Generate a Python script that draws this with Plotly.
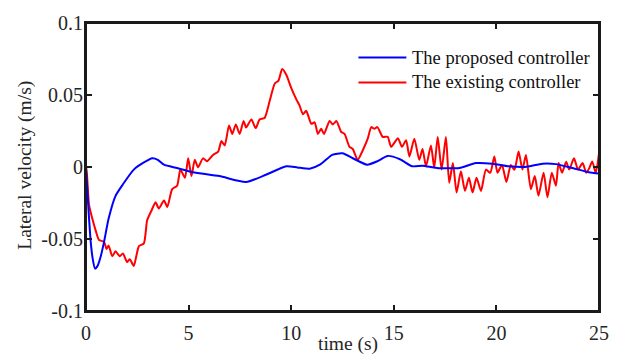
import plotly.graph_objects as go

# ---- data ----
t_proposed = [
    0, 0.07, 0.15, 0.23, 0.33, 0.44, 0.55, 0.7, 0.88, 1.1,
    1.44, 1.8, 2.33, 2.8, 3.23, 3.5, 3.8, 4.44, 5.2, 6.5,
    7.8, 8.8, 9.76, 10.3, 10.9, 11.4, 12.0, 12.5, 13.0, 13.7,
    14.2, 14.7, 15.3, 15.9, 16.4, 17.1, 18.2, 19.0, 19.8, 20.6,
    21.4, 22.25, 22.9, 23.7, 24.5, 25,
]
v_proposed = [
    0, -0.0177, -0.036, -0.052, -0.064, -0.0706, -0.069, -0.063, -0.052, -0.036,
    -0.02, -0.012, -0.0018, 0.003, 0.0061, 0.005, 0.0016, -0.0007, -0.0036, -0.0063,
    -0.0104, -0.0052, 0.0005, -0.0003, -0.0012, 0.0016, 0.0084, 0.0095, 0.0061, 0.0016,
    0.004, 0.0077, 0.0054, 0.0005, 0.0009, -0.0007, -0.0007, 0.0027, 0.0023, 0.0005,
    0.0, 0.0023, 0.002, -0.0007, -0.0036, -0.0045,
]

t_existing = [
    0, 0.05, 0.15, 0.31, 0.47, 0.63, 0.88, 1.0, 1.1, 1.28,
    1.44, 1.64, 1.8, 2.0, 2.13, 2.33, 2.45, 2.58, 2.82, 2.98,
    3.2, 3.39, 3.55, 3.8, 3.96, 4.2, 4.44, 4.6, 4.82, 4.98,
    5.14, 5.3, 5.46, 5.7, 5.9, 6.19, 6.44, 6.6, 6.76, 6.97,
    7.13, 7.3, 7.49, 7.68, 7.8, 8.06, 8.27, 8.46, 8.7, 8.95,
    9.2, 9.38, 9.56, 9.76, 10.0, 10.25, 10.4, 10.57, 10.73, 10.98,
    11.14, 11.3, 11.46, 11.6, 11.87, 12.03, 12.2, 12.44, 12.6, 12.84,
    13.0, 13.24, 13.5, 13.73, 13.9, 14.05, 14.2, 14.46, 14.7, 14.87,
    15.2, 15.4, 15.6, 15.76, 16.0, 16.24, 16.4, 16.57, 16.81, 16.97,
    17.14, 17.33, 17.54, 17.7, 17.88, 18.06, 18.27, 18.47, 18.66, 18.84,
    19.03, 19.25, 19.49, 19.7, 19.9, 20.05, 20.27, 20.49, 20.7, 20.88,
    21.08, 21.27, 21.44, 21.68, 21.87, 22.05, 22.3, 22.49, 22.7, 22.9,
    23.03, 23.2, 23.4, 23.55, 23.78, 23.98, 24.2, 24.38, 24.52, 24.67,
    24.84, 25,
]
v_existing = [
    0, -0.006, -0.0265, -0.036, -0.044, -0.0506, -0.052, -0.057, -0.0545, -0.062,
    -0.0585, -0.062, -0.06, -0.066, -0.064, -0.0687, -0.062, -0.055, -0.053, -0.037,
    -0.03, -0.0245, -0.0288, -0.0233, -0.0278, -0.0154, -0.013, -0.0018, -0.0075, 0.006,
    -0.0063, 0.005, -0.0002, 0.006, 0.004, 0.0084, 0.0107, 0.018, 0.015, 0.0288,
    0.023, 0.0295, 0.023, 0.032, 0.0275, 0.033, 0.027, 0.033, 0.034, 0.0458,
    0.058, 0.06, 0.068, 0.064, 0.055, 0.047, 0.043, 0.0367, 0.039, 0.030,
    0.031, 0.023, 0.0265, 0.023, 0.032, 0.0295, 0.032, 0.0243, 0.023, 0.014,
    0.0125, 0.005, 0.012, 0.0197, 0.0277, 0.0265, 0.0277, 0.0209, 0.021, 0.014,
    0.02, 0.014, 0.0186, 0.0073, 0.0197, 0.005, 0.0125, 0.0005, 0.015, -0.0005,
    0.0209, -0.0018, 0.0209, -0.0109, 0.0027, -0.0177, -0.003, -0.0166, -0.0075, -0.0177,
    -0.0075, -0.0166, -0.0018, -0.004, 0.0073, -0.004, 0.0014, -0.0104, 0.0014, -0.002,
    0.0107, -0.0018, 0.0084, -0.0154, -0.0063, -0.02, -0.004, -0.021, -0.004, -0.013,
    0.0027, -0.004, 0.0036, -0.0018, 0.0061, -0.0018, 0.0027, -0.004, -0.001, 0.0039,
    -0.004, 0.0095,
]

series_names = ["The proposed controller", "The existing controller"]
x_ticks = [0, 5, 10, 15, 20, 25]
x_tick_labels = ["0", "5", "10", "15", "20", "25"]
y_ticks = [-0.1, -0.05, 0, 0.05, 0.1]
y_tick_labels = ["-0.1", "-0.05", "0", "0.05", "0.1"]

FONT = "Liberation Serif, Times New Roman, serif"
TXT = "#262626"
AX = "#1a1a1a"
colors = ["#0000FF", "#FF0000"]

fig = go.Figure()
fig.add_trace(go.Scatter(x=t_existing, y=v_existing, mode="lines",
                         name=series_names[1],
                         line=dict(color=colors[1], width=2, shape="spline", smoothing=0.6)))
fig.add_trace(go.Scatter(x=t_proposed, y=v_proposed, mode="lines",
                         name=series_names[0],
                         line=dict(color=colors[0], width=2, shape="spline", smoothing=0.6)))

axis_common = dict(showgrid=False, zeroline=False, showline=True, linecolor=AX,
                   linewidth=2, mirror="ticks", ticks="inside", ticklen=6,
                   tickwidth=1.5, tickcolor=AX,
                   tickfont=dict(family=FONT, size=20, color=TXT))

fig.update_xaxes(range=[0, 25], tickmode="array", tickvals=x_ticks,
                 ticktext=x_tick_labels, ticklabelstandoff=3, **axis_common)
fig.update_yaxes(range=[-0.1, 0.1], tickmode="array", tickvals=y_ticks,
                 ticktext=y_tick_labels, ticklabelstandoff=-3, **axis_common)

# axes box (MATLAB "box on")
shapes = [dict(type="rect", xref="paper", yref="paper", x0=0, x1=1, y0=0, y1=1,
               line=dict(color=AX, width=2), fillcolor="rgba(0,0,0,0)", layer="above")]
annotations = []
# legend drawn as swatches + text (MATLAB-style long sample lines)
leg_rows = [0.88, 0.7935]
for i, (name, col) in enumerate(zip(series_names, colors)):
    shapes.append(dict(type="line", xref="paper", yref="paper",
                       x0=0.5311, x1=0.6245, y0=leg_rows[i], y1=leg_rows[i],
                       line=dict(color=col, width=2)))
    annotations.append(dict(text=name, xref="paper", yref="paper",
                            x=0.6323, y=leg_rows[i], xanchor="left", yanchor="middle",
                            showarrow=False,
                            font=dict(family=FONT, size=18.5, color="#111111")))

annotations.append(dict(text="time (s)", xref="paper", yref="paper",
                        x=0.51, y=-0.1156, xanchor="center", yanchor="middle",
                        showarrow=False, font=dict(family=FONT, size=19.5, color=TXT)))
annotations.append(dict(text="Lateral velocity (m/s)", xref="paper", yref="paper",
                        x=-0.1206, y=0.505, xanchor="center", yanchor="middle",
                        textangle=-90, showarrow=False,
                        font=dict(family=FONT, size=19.5, color=TXT)))

fig.update_layout(width=621, height=358,
                  margin=dict(l=86, r=21, t=17, b=47),
                  paper_bgcolor="white", plot_bgcolor="white",
                  font=dict(family=FONT, color=TXT),
                  showlegend=False, shapes=shapes, annotations=annotations)

fig.write_html("out.html")
